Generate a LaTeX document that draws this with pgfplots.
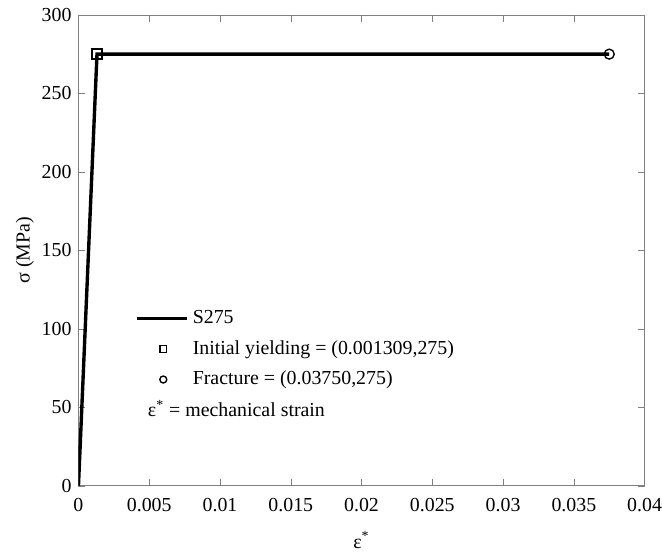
\documentclass[border=0pt]{standalone}
\usepackage{pgfplots}
\pgfplotsset{compat=1.18}
\usepackage{fontspec}
\setmainfont{Liberation Serif}
\pgfplotsset{
  lineleg/.style={legend image code/.code={\draw[##1] (0pt,0pt) -- (25pt,0pt);}},
  markleg/.style={legend image code/.code={\draw[##1, mark size=1.75pt] plot coordinates {(13pt,0pt)};}},
}
\begin{document}
\begin{tikzpicture}
\begin{axis}[
  width=285pt, height=237pt, scale only axis,
  xmin=0, xmax=0.04, ymin=0, ymax=300,
  xtick={0,0.005,0.01,0.015,0.02,0.025,0.03,0.035,0.04},
  ytick={0,50,100,150,200,250,300},
  scaled x ticks=false,
  xticklabel style={/pgf/number format/fixed, /pgf/number format/precision=3, yshift=-3pt, inner xsep=0pt},
  /pgf/number format/assume math mode=true,
  tick align=inside, major tick length=3.5pt,
  axis line style={gray}, tick style={gray},
  xlabel={ε\textsuperscript{*}}, ylabel={σ (MPa)},
  xlabel shift=3pt, ylabel shift=-3pt,
  legend style={draw=none, fill=none, at={(0.09,0.39)}, anchor=north west, font=\normalsize, row sep=3pt},
  legend cell align=left,
]
\addplot[black, line width=1.7pt, lineleg] coordinates {(0,0) (0.001309,275) (0.0375,275)};
\addlegendentry{S275}
\addplot[only marks, mark=square, mark size=2.5pt, black, mark options={line width=0.7pt}, markleg] coordinates {(0.001309,275)};
\addlegendentry{Initial yielding = (0.001309,275)}
\addplot[only marks, mark=o, mark size=2.5pt, black, mark options={line width=0.7pt}, markleg] coordinates {(0.0375,275)};
\addlegendentry{Fracture = (0.03750,275)}
\node[anchor=west, inner sep=0pt] at (axis cs:0.00488,49) {ε\textsuperscript{*} = mechanical strain};
\end{axis}
\path ([xshift=-39.5pt,yshift=-29pt]current axis.south west) ([xshift=5.5pt,yshift=7.5pt]current axis.north east);
\end{tikzpicture}
\end{document}
